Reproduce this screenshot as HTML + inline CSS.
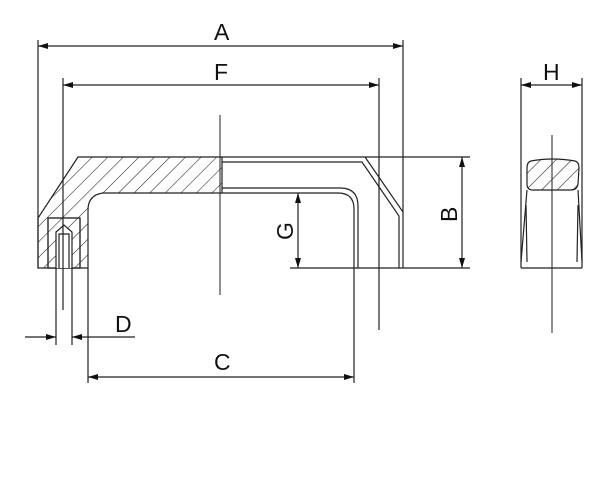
<!DOCTYPE html>
<html><head><style>body{margin:0;background:#fff}svg{display:block}text{font-family:"Liberation Sans",sans-serif;font-size:23px;fill:#111}</style></head><body>
<svg width="600" height="500" viewBox="0 0 600 500" xmlns="http://www.w3.org/2000/svg">
<defs>
<pattern id="h" width="11" height="11" patternUnits="userSpaceOnUse" patternTransform="rotate(45)"><line x1="0" y1="0" x2="0" y2="11" stroke="#222" stroke-width="1.1"/></pattern>
<marker id="ar" viewBox="0 0 10 6" refX="10" refY="3" markerWidth="10" markerHeight="6" orient="auto-start-reverse" markerUnits="userSpaceOnUse"><path d="M0,0L10,3L0,6z" fill="#111"/></marker>
</defs>
<g stroke="#222" stroke-width="1.2" fill="none">
<path d="M78,157 L222,157 L222,193 L103,193 Q88,195 88,210 L88,268 L38,268 L38,218 Z" fill="url(#h)"/>
<rect x="48" y="218" width="32" height="50" fill="#fff"/>
<rect x="48" y="218" width="32" height="50" fill="url(#h)"/>
<path d="M56,268 L56,232 L64,225 L72,232 L72,268" fill="#fff"/>
<path d="M59,268 L59,234 L69,234 L69,268"/>
<path d="M222,157 L365,157 L403,212 L403,268"/>
<path d="M222,162 L362,162 L399,216 L399,268"/>
<path d="M222,188 L340,188 Q358,188 358,206 L358,268"/>
<path d="M222,193 L338,193 Q354,193 354,209 L354,383"/>
<line x1="38" y1="40" x2="38" y2="268"/>
<line x1="403" y1="40" x2="403" y2="212"/>
<line x1="63" y1="78" x2="63" y2="310"/>
<line x1="379" y1="78" x2="379" y2="330"/>
<line x1="88" y1="268" x2="88" y2="383"/>
<line x1="56" y1="268" x2="56" y2="345"/>
<line x1="72" y1="268" x2="72" y2="345"/>
<line x1="365" y1="157" x2="470" y2="157"/>
<line x1="290" y1="268" x2="470" y2="268"/>
<line x1="220" y1="115" x2="220" y2="295" stroke-width="1"/>
<line x1="38" y1="46" x2="403" y2="46" marker-start="url(#ar)" marker-end="url(#ar)"/>
<line x1="63" y1="85" x2="379" y2="85" marker-start="url(#ar)" marker-end="url(#ar)"/>
<line x1="88" y1="377" x2="354" y2="377" marker-start="url(#ar)" marker-end="url(#ar)"/>
<line x1="298" y1="193" x2="298" y2="268" marker-start="url(#ar)" marker-end="url(#ar)"/>
<line x1="462" y1="157" x2="462" y2="268" marker-start="url(#ar)" marker-end="url(#ar)"/>
<line x1="25" y1="337" x2="56" y2="337" marker-end="url(#ar)"/>
<line x1="135" y1="337" x2="72" y2="337" marker-end="url(#ar)"/>
<line x1="521" y1="78" x2="521" y2="268"/>
<line x1="582" y1="78" x2="582" y2="268"/>
<line x1="521" y1="85" x2="582" y2="85" marker-start="url(#ar)" marker-end="url(#ar)"/>
<line x1="521" y1="268" x2="582" y2="268"/>
<path d="M531,161 Q552,157 575,161 Q579,162 579,168 L578,184 Q577,190 571,190 L533,190 Q527,190 527,184 L527,168 Q527,162 531,161 Z" fill="url(#h)"/>
<line x1="527" y1="190" x2="521" y2="262"/>
<line x1="578" y1="190" x2="582" y2="262"/>
<line x1="526" y1="205" x2="527" y2="262"/>
<line x1="578" y1="205" x2="577" y2="262"/>
<line x1="552" y1="135" x2="552" y2="333" stroke-width="1"/>
</g>
<text x="214" y="40">A</text>
<text x="214" y="80">F</text>
<text x="214" y="370">C</text>
<text x="115" y="332">D</text>
<text x="543" y="80">H</text>
<text x="0" y="0" transform="translate(293,240) rotate(-90)">G</text>
<text x="0" y="0" transform="translate(457,222) rotate(-90)">B</text>
</svg>
</body></html>
